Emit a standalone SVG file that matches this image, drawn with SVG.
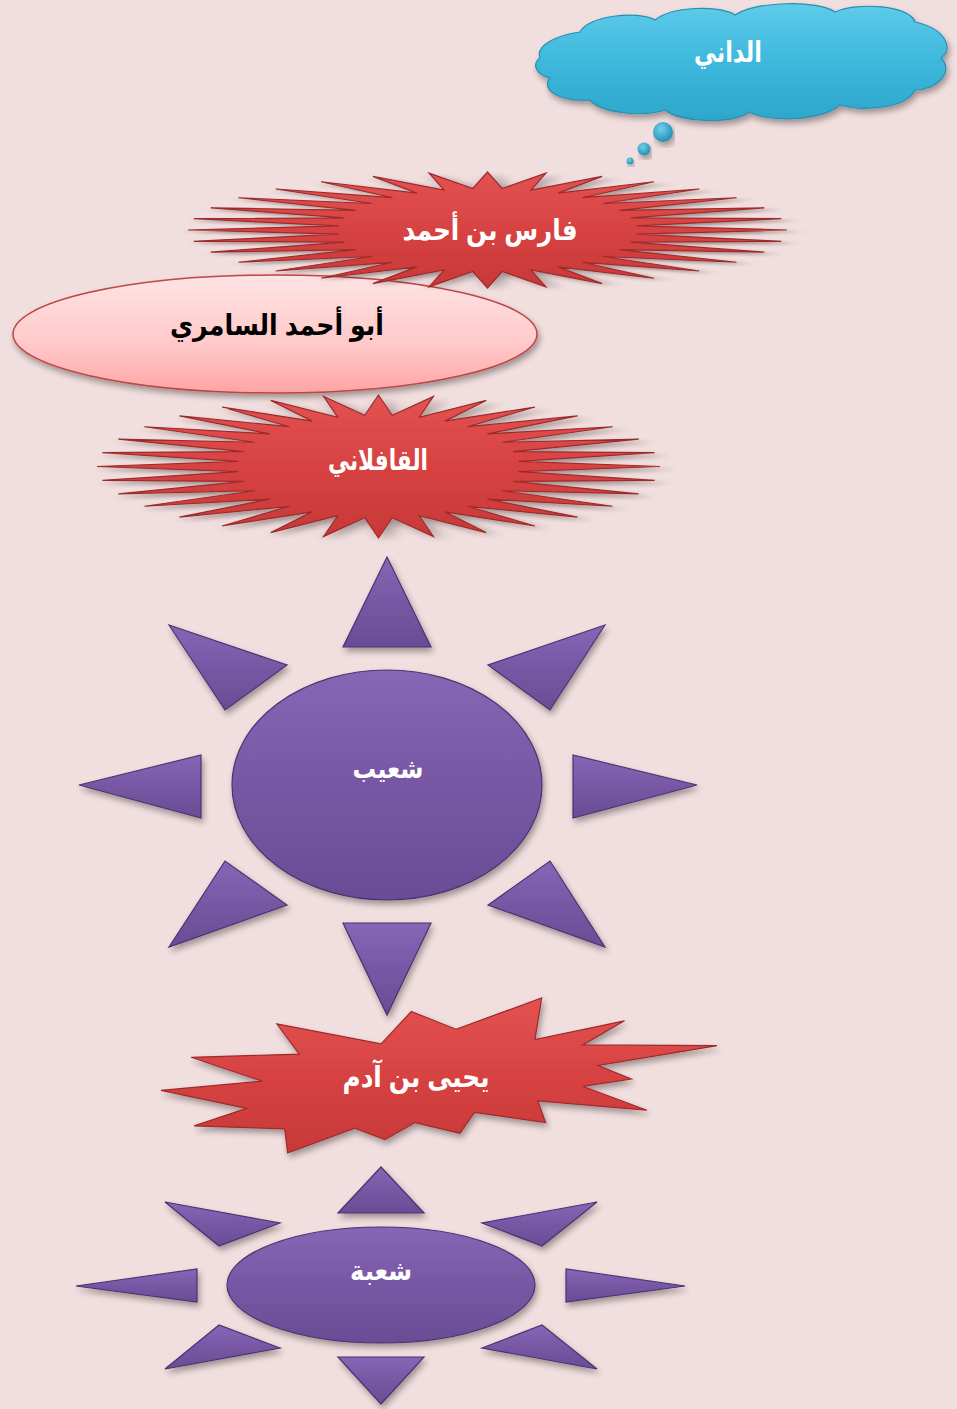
<svg xmlns="http://www.w3.org/2000/svg" xmlns:xlink="http://www.w3.org/1999/xlink" width="957" height="1409" viewBox="0 0 957 1409">
<defs>
<style>
.lbl{font-family:"Liberation Sans","DejaVu Sans",sans-serif;font-weight:bold;text-anchor:middle;direction:rtl}
.w{fill:#FFFFFF}
.b{fill:#000000}
.red{fill:url(#gRed);stroke:#9E2B2B;stroke-width:1.2}
.pur{fill:url(#gPur);stroke:#4A3370;stroke-width:1.2}
.sh{filter:url(#shadow)}
</style>
<linearGradient id="gRed" x1="0" y1="0" x2="0" y2="1">
<stop offset="0" stop-color="#E35252"/>
<stop offset="0.5" stop-color="#D74242"/>
<stop offset="1" stop-color="#C83838"/>
</linearGradient>
<linearGradient id="gPur" x1="0" y1="0" x2="0" y2="1">
<stop offset="0" stop-color="#8766B6"/>
<stop offset="0.5" stop-color="#7757A4"/>
<stop offset="1" stop-color="#6A4C95"/>
</linearGradient>
<linearGradient id="gCloud" x1="0" y1="0" x2="0" y2="1">
<stop offset="0" stop-color="#5FCBEA"/>
<stop offset="0.5" stop-color="#3DB8DC"/>
<stop offset="1" stop-color="#2EA6CC"/>
</linearGradient>
<radialGradient id="gBub" cx="0.4" cy="0.35" r="0.7">
<stop offset="0" stop-color="#6FD2EE"/>
<stop offset="1" stop-color="#1F8AAE"/>
</radialGradient>
<linearGradient id="gPink" x1="0" y1="0" x2="0" y2="1">
<stop offset="0" stop-color="#FFE4E4"/>
<stop offset="0.6" stop-color="#FFC8C8"/>
<stop offset="1" stop-color="#FFA4A4"/>
</linearGradient>
<filter id="shadow" x="-10%" y="-20%" width="120%" height="150%">
<feGaussianBlur in="SourceAlpha" stdDeviation="3"/>
<feOffset dx="2" dy="4" result="o"/>
<feComponentTransfer><feFuncA type="linear" slope="0.35"/></feComponentTransfer>
<feMerge><feMergeNode/><feMergeNode in="SourceGraphic"/></feMerge>
</filter>
<polygon id="star32" vector-effect="non-scaling-stroke" points="100,0 49.76,-7.06 98.08,-19.51 47.85,-20.9 92.39,-38.27 44.1,-33.94 83.15,-55.56 38.65,-45.68 70.71,-70.71 31.72,-55.66 55.56,-83.15 23.57,-63.5 38.27,-92.39 14.51,-68.9 19.51,-98.08 4.9,-71.65 0,-100 -4.9,-71.65 -19.51,-98.08 -14.51,-68.9 -38.27,-92.39 -23.57,-63.5 -55.56,-83.15 -31.72,-55.66 -70.71,-70.71 -38.65,-45.68 -83.15,-55.56 -44.1,-33.94 -92.39,-38.27 -47.85,-20.9 -98.08,-19.51 -49.76,-7.06 -100,0 -49.76,7.06 -98.08,19.51 -47.85,20.9 -92.39,38.27 -44.1,33.94 -83.15,55.56 -38.65,45.68 -70.71,70.71 -31.72,55.66 -55.56,83.15 -23.57,63.5 -38.27,92.39 -14.51,68.9 -19.51,98.08 -4.9,71.65 0,100 4.9,71.65 19.51,98.08 14.51,68.9 38.27,92.39 23.57,63.5 55.56,83.15 31.72,55.66 70.71,70.71 38.65,45.68 83.15,55.56 44.1,33.94 92.39,38.27 47.85,20.9 98.08,19.51 49.76,7.06"/>
</defs>
<rect x="0" y="0" width="957" height="1409" fill="#F1DEDE"/>

<g id="connectors"></g>

<g id="node-dani">
<path class="sh" fill="url(#gCloud)" stroke="#2790B0" stroke-width="1.2" d="M540,58 C535,45 558,35 580,32 C587,16 638,10 655,20 C672,6 720,5 735,15 C757,1 818,0 835,12 C857,2 910,5 915,22 C944,28 955,48 941,58 C955,72 936,90 915,90 C905,110 860,111 840,105 C820,122 765,122 750,112 C730,125 680,122 665,110 C640,118 600,112 590,100 C560,102 540,90 550,78 C535,74 532,64 540,58 Z"/>
<circle class="sh" cx="663" cy="132" r="10" fill="url(#gBub)"/>
<circle class="sh" cx="644" cy="149" r="6.5" fill="url(#gBub)"/>
<circle class="sh" cx="630" cy="161" r="3.5" fill="url(#gBub)"/>
<text class="lbl w" x="728" y="62" font-size="29" textLength="68" lengthAdjust="spacingAndGlyphs">الداني</text>
</g>

<g id="node-samurri">
<ellipse class="sh" cx="275" cy="334" rx="262" ry="59" fill="url(#gPink)" stroke="#C04444" stroke-width="1.5"/>
<text class="lbl b" x="277" y="335" font-size="29" textLength="214" lengthAdjust="spacingAndGlyphs">أبو أحمد السامري</text>
</g>

<g id="node-faris">
<use xlink:href="#star32" class="red sh" transform="translate(487.5,230) scale(2.995,0.58)"/>
<text class="lbl w" x="490" y="240" font-size="29" textLength="175" lengthAdjust="spacingAndGlyphs">فارس بن أحمد</text>
</g>

<g id="node-qafilani">
<use xlink:href="#star32" class="red sh" transform="translate(378.5,466.5) scale(2.815,0.715)"/>
<text class="lbl w" x="378" y="470" font-size="29" textLength="100" lengthAdjust="spacingAndGlyphs">القافلاني</text>
</g>

<g id="node-shuayb">
<ellipse class="pur sh" cx="387" cy="785" rx="155" ry="115"/>
<polygon class="pur sh" points="387,557 431,647 343,647"/>
<polygon class="pur sh" points="343,923 431,923 387,1015"/>
<polygon class="pur sh" points="79,785 201,755 201,818"/>
<polygon class="pur sh" points="697,785 573,755 573,818"/>
<polygon class="pur sh" points="169,625 287,665 225,710"/>
<polygon class="pur sh" points="605,625 488,665 550,710"/>
<polygon class="pur sh" points="169,947 225,861 287,905"/>
<polygon class="pur sh" points="605,947 550,861 488,905"/>
<text class="lbl w" x="388" y="778" font-size="27" textLength="71" lengthAdjust="spacingAndGlyphs">شعيب</text>
</g>

<g id="node-yahya">
<polygon class="red sh" points="456,1029.2 541.7,998 534.9,1039.5 624.5,1020.8 582.6,1044.9 717,1045.7 598.2,1065.5 631.3,1079 582.6,1086.3 646.9,1110.2 537.8,1101 545.6,1122.6 474.5,1112.3 459.9,1133.2 415.1,1122.6 384.9,1139.5 354.8,1128.1 287.6,1153 284.7,1128.9 194.1,1125.9 246.7,1108.3 161,1090.4 262.3,1081.2 191.2,1057.3 299.3,1054.1 276.9,1024 381.1,1043.8 411.3,1011.5"/>
<text class="lbl w" x="416" y="1087" font-size="29" textLength="147" lengthAdjust="spacingAndGlyphs">يحيى بن آدم</text>
</g>

<g id="node-shuba">
<ellipse class="pur sh" cx="381" cy="1285" rx="154" ry="58"/>
<polygon class="pur sh" points="381,1167 424,1213 338,1213"/>
<polygon class="pur sh" points="338,1357 424,1357 381,1404"/>
<polygon class="pur sh" points="76,1286 197,1269 197,1302"/>
<polygon class="pur sh" points="685,1286 566,1269 566,1302"/>
<polygon class="pur sh" points="165,1202 280,1223 219,1246"/>
<polygon class="pur sh" points="597,1202 482,1223 542,1246"/>
<polygon class="pur sh" points="165,1369 219,1325 280,1348"/>
<polygon class="pur sh" points="597,1369 542,1325 482,1348"/>
<text class="lbl w" x="381" y="1280" font-size="27" textLength="62" lengthAdjust="spacingAndGlyphs">شعبة</text>
</g>
</svg>
